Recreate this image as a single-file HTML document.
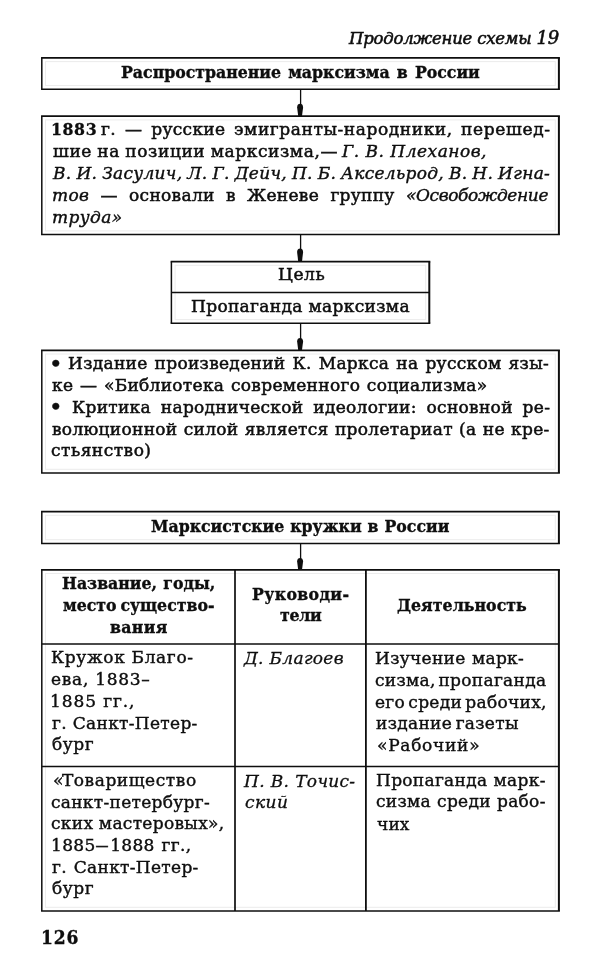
<!DOCTYPE html>
<html lang="ru"><head><meta charset="utf-8"><title>Схема 19</title>
<style>

html,body{margin:0;padding:0;background:#fff;}
body{width:602px;height:975px;overflow:hidden;}
#pg{position:relative;width:602px;height:975px;background:#fff;color:#0e0e0e;font-family:"DejaVu Serif", "Liberation Serif", serif;overflow:hidden;}
#pg svg.fr{position:absolute;left:0;top:0;}
.t{position:absolute;white-space:nowrap;line-height:1.2;-webkit-text-stroke:0.5px #0e0e0e;will-change:transform;filter:blur(0.3px);}
.b{font-family:"DejaVu Serif Condensed", "DejaVu Serif", "Liberation Serif", serif;font-weight:bold;font-stretch:condensed;-webkit-text-stroke:0.35px #0e0e0e;}
.i{font-style:italic;-webkit-text-stroke-width:0.4px;}
b{font-family:"DejaVu Serif Condensed", "DejaVu Serif", "Liberation Serif", serif;font-weight:bold;font-stretch:condensed;-webkit-text-stroke:0.3px #0e0e0e;}
i{font-style:italic;-webkit-text-stroke-width:0.4px;}
.li{-webkit-text-stroke-width:0.3px;}
.tb{-webkit-text-stroke-width:0.4px;}
.d{display:inline-block;transform:scaleX(1.65);margin:0 2.8px;}
</style></head>
<body>
<div id="pg">
<svg class="fr" width="602" height="975" viewBox="0 0 602 975">
<g fill="none" stroke="#0e0e0e" stroke-width="1.5">
<rect stroke="#ececec" stroke-width="1" x="45.50" y="61.60" width="509.80" height="23.90"/>
<path stroke-width="1.7" d="M41.05 57.9H559.90"/><path stroke-width="1.5" d="M41.05 89.2H559.90"/><path stroke-width="1.5" d="M41.8 57.9V89.2"/><path stroke-width="2.0" d="M558.90 57.9V89.2"/>
<line x1="300.6" y1="89.2" x2="300.6" y2="116.2" stroke-width="1.3"/>
<path fill="#0e0e0e" stroke="none" d="M297.10 107.40 C297.10 104.80 298.50 103.80 300.10 103.80 C301.70 103.80 303.10 104.80 303.10 107.40 L302.00 116.20 L298.20 116.20 Z"/>
<rect stroke="#ececec" stroke-width="1" x="45.50" y="119.90" width="509.80" height="111.00"/>
<path stroke-width="1.7" d="M41.05 116.2H559.90"/><path stroke-width="1.5" d="M41.05 234.6H559.90"/><path stroke-width="1.5" d="M41.8 116.2V234.6"/><path stroke-width="2.0" d="M558.90 116.2V234.6"/>
<line x1="300.6" y1="234.6" x2="300.6" y2="261.6" stroke-width="1.3"/>
<path fill="#0e0e0e" stroke="none" d="M297.10 252.00 C297.10 249.40 298.50 248.40 300.10 248.40 C301.70 248.40 303.10 249.40 303.10 252.00 L302.00 261.60 L298.20 261.60 Z"/>
<rect stroke="#ececec" stroke-width="1" x="175.10" y="265.30" width="250.60" height="54.30"/>
<path stroke-width="1.7" d="M170.65 261.6H430.30"/><path stroke-width="1.5" d="M170.65 323.3H430.30"/><path stroke-width="1.5" d="M171.4 261.6V323.3"/><path stroke-width="2.0" d="M429.30 261.6V323.3"/>
<line x1="171.4" y1="292.6" x2="429.4" y2="292.6"/>
<line x1="300.6" y1="323.3" x2="300.6" y2="350.3" stroke-width="1.3"/>
<path fill="#0e0e0e" stroke="none" d="M297.10 341.50 C297.10 338.90 298.50 337.90 300.10 337.90 C301.70 337.90 303.10 338.90 303.10 341.50 L302.00 350.30 L298.20 350.30 Z"/>
<rect stroke="#ececec" stroke-width="1" x="45.50" y="354.00" width="509.80" height="115.30"/>
<path stroke-width="1.7" d="M41.05 350.3H559.90"/><path stroke-width="1.5" d="M41.05 473.0H559.90"/><path stroke-width="1.5" d="M41.8 350.3V473.0"/><path stroke-width="2.0" d="M558.90 350.3V473.0"/>
<rect stroke="#ececec" stroke-width="1" x="45.50" y="515.30" width="509.80" height="24.40"/>
<path stroke-width="1.7" d="M41.05 511.6H559.90"/><path stroke-width="1.5" d="M41.05 543.4H559.90"/><path stroke-width="1.5" d="M41.8 511.6V543.4"/><path stroke-width="2.0" d="M558.90 511.6V543.4"/>
<line x1="300.6" y1="543.4" x2="300.6" y2="569.8" stroke-width="1.3"/>
<path fill="#0e0e0e" stroke="none" d="M297.10 561.60 C297.10 559.00 298.50 558.00 300.10 558.00 C301.70 558.00 303.10 559.00 303.10 561.60 L302.00 569.80 L298.20 569.80 Z"/>
<rect stroke="#ececec" stroke-width="1" x="45.50" y="573.50" width="509.80" height="333.80"/>
<path stroke-width="1.7" d="M41.05 569.8H559.90"/><path stroke-width="1.5" d="M41.05 911.0H559.90"/><path stroke-width="1.5" d="M41.8 569.8V911.0"/><path stroke-width="2.0" d="M558.90 569.8V911.0"/>
<line x1="41.8" y1="644.0" x2="559.0" y2="644.0"/>
<line x1="41.8" y1="766.5" x2="559.0" y2="766.5"/>
<line x1="235.0" y1="569.8" x2="235.0" y2="911.0" stroke-width="1.7"/>
<line x1="365.9" y1="569.8" x2="365.9" y2="911.0" stroke-width="1.8"/>
</g>
</svg>
<div class="t i" style="left:348.60px;top:27.10px;font-size:16.5px;letter-spacing:-0.221px;-webkit-text-stroke-width:0.55px;">Продолжение схемы <span style="font-size:18px">19</span></div>
<div class="t b" style="left:120.50px;top:62.20px;font-size:17.5px;word-spacing:1.700px;">Распространение марксизма в России</div>
<div class="t" style="left:50.50px;top:119.30px;font-size:17px;letter-spacing:0.600px;"><b style="font-size:17.5px">1883</b></div>
<div class="t" style="left:101.10px;top:119.30px;font-size:17px;letter-spacing:0.300px;word-spacing:3.350px;">г. — русские</div>
<div class="t" style="left:233.80px;top:119.30px;font-size:17px;letter-spacing:0.584px;">эмигранты-народники,</div>
<div class="t" style="left:460.80px;top:119.30px;font-size:17px;letter-spacing:0.657px;">перешед-</div>
<div class="t" style="left:52.50px;top:140.90px;font-size:17px;letter-spacing:0.600px;word-spacing:-0.667px;">шие на позиции марксизма,—</div>
<div class="t i" style="left:342.40px;top:140.90px;font-size:17px;letter-spacing:0.500px;">Г. В. Плеханов,</div>
<div class="t i" style="left:52.50px;top:163.10px;font-size:17px;letter-spacing:0.300px;word-spacing:-0.782px;">В. И. Засулич, Л. Г. Дейч, П. Б. Аксельрод, В. Н. Игна-</div>
<div class="t" style="left:51.50px;top:185.10px;font-size:17px;letter-spacing:0.300px;word-spacing:5.600px;"><i>тов</i> — основали в Женеве группу</div>
<div class="t i" style="left:406.20px;top:185.10px;font-size:17px;letter-spacing:-0.375px;">«Освобождение</div>
<div class="t i" style="left:51.50px;top:207.10px;font-size:17px;letter-spacing:0.400px;">труда»</div>
<div class="t" style="left:277.50px;top:264.00px;font-size:17px;letter-spacing:0.600px;">Цель</div>
<div class="t" style="left:190.90px;top:296.00px;font-size:17px;letter-spacing:0.337px;">Пропаганда марксизма</div>
<div class="t" style="left:49.10px;top:350.90px;font-size:23px;letter-spacing:0.300px;">•</div>
<div class="t" style="left:68.40px;top:353.40px;font-size:17px;letter-spacing:0.300px;word-spacing:1.367px;">Издание произведений К. Маркса на русском язы-</div>
<div class="t" style="left:51.50px;top:375.20px;font-size:17px;letter-spacing:0.300px;word-spacing:0.975px;">ке — «Библиотека современного социализма»</div>
<div class="t" style="left:49.00px;top:394.30px;font-size:23px;letter-spacing:0.300px;">•</div>
<div class="t" style="left:71.60px;top:397.10px;font-size:17px;letter-spacing:0.300px;word-spacing:4.150px;">Критика народнической идеологии: основной ре-</div>
<div class="t" style="left:52.30px;top:419.00px;font-size:17px;letter-spacing:0.300px;word-spacing:0.583px;">волюционной силой является пролетариат (а не кре-</div>
<div class="t" style="left:50.80px;top:439.90px;font-size:17px;letter-spacing:0.489px;">стьянство)</div>
<div class="t b" style="left:151.30px;top:515.90px;font-size:17.5px;word-spacing:0.467px;">Марксистские кружки в России</div>
<div class="t b" style="left:62.40px;top:573.10px;font-size:17.5px;word-spacing:0.900px;">Название, годы,</div>
<div class="t b" style="left:62.90px;top:594.70px;font-size:17.5px;word-spacing:-1.600px;">место существо-</div>
<div class="t b" style="left:109.80px;top:616.60px;font-size:17.5px;letter-spacing:0.325px;">вания</div>
<div class="t b" style="left:252.40px;top:584.00px;font-size:17.5px;letter-spacing:0.375px;">Руководи-</div>
<div class="t b" style="left:279.90px;top:605.30px;font-size:17.5px;letter-spacing:-0.300px;">тели</div>
<div class="t b" style="left:397.40px;top:595.30px;font-size:17.5px;letter-spacing:0.045px;">Деятельность</div>
<div class="t tb" style="left:51.40px;top:647.30px;font-size:17px;letter-spacing:0.650px;">Кружок Благо-</div>
<div class="t tb" style="left:51.40px;top:669.30px;font-size:17px;letter-spacing:0.722px;">ева, 1883–</div>
<div class="t tb" style="left:50.40px;top:691.30px;font-size:17px;letter-spacing:0.900px;">1885 гг.,</div>
<div class="t tb" style="left:52.40px;top:712.80px;font-size:17px;letter-spacing:0.300px;word-spacing:0.200px;">г. Санкт-Петер-</div>
<div class="t tb" style="left:52.40px;top:734.20px;font-size:17px;letter-spacing:0.567px;">бург</div>
<div class="t i li" style="left:244.10px;top:647.80px;font-size:17px;letter-spacing:0.300px;">Д. Благоев</div>
<div class="t tb" style="left:375.20px;top:647.50px;font-size:17px;letter-spacing:0.300px;word-spacing:0.700px;">Изучение марк-</div>
<div class="t tb" style="left:375.20px;top:669.50px;font-size:17px;letter-spacing:0.300px;word-spacing:-2.900px;">сизма, пропаганда</div>
<div class="t tb" style="left:375.20px;top:691.50px;font-size:17px;letter-spacing:0.300px;word-spacing:-2.450px;">его среди рабочих,</div>
<div class="t tb" style="left:376.20px;top:713.00px;font-size:17px;letter-spacing:0.300px;word-spacing:-2.100px;">издание газеты</div>
<div class="t tb" style="left:376.50px;top:734.50px;font-size:17px;letter-spacing:0.725px;">«Рабочий»</div>
<div class="t tb" style="left:53.10px;top:770.10px;font-size:17px;letter-spacing:0.558px;"><span style="letter-spacing:-1.5px">«</span>Товарищество</div>
<div class="t tb" style="left:51.40px;top:791.70px;font-size:17px;letter-spacing:0.293px;">санкт-петербург-</div>
<div class="t tb" style="left:51.40px;top:813.30px;font-size:17px;letter-spacing:0.300px;word-spacing:-0.100px;">ских мастеровых»,</div>
<div class="t tb" style="left:50.80px;top:834.90px;font-size:17px;letter-spacing:0.350px;word-spacing:1.000px;">1885<span class="d">–</span>1888 гг.,</div>
<div class="t tb" style="left:52.40px;top:856.50px;font-size:17px;letter-spacing:0.300px;word-spacing:1.200px;">г. Санкт-Петер-</div>
<div class="t tb" style="left:52.40px;top:878.10px;font-size:17px;letter-spacing:0.567px;">бург</div>
<div class="t i li" style="left:244.30px;top:770.90px;font-size:17px;letter-spacing:0.300px;word-spacing:0.250px;">П. В. Точис-</div>
<div class="t i li" style="left:244.80px;top:791.90px;font-size:17px;letter-spacing:0.433px;">ский</div>
<div class="t tb" style="left:375.50px;top:770.00px;font-size:17px;letter-spacing:0.300px;word-spacing:0.500px;">Пропаганда марк-</div>
<div class="t tb" style="left:375.50px;top:791.40px;font-size:17px;letter-spacing:0.300px;word-spacing:0.400px;">сизма среди рабо-</div>
<div class="t tb" style="left:376.50px;top:813.50px;font-size:17px;letter-spacing:0.150px;">чих</div>
<div class="t b" style="left:40.60px;top:925.50px;font-size:19px;letter-spacing:0.800px;">126</div>
</div>
</body></html>
